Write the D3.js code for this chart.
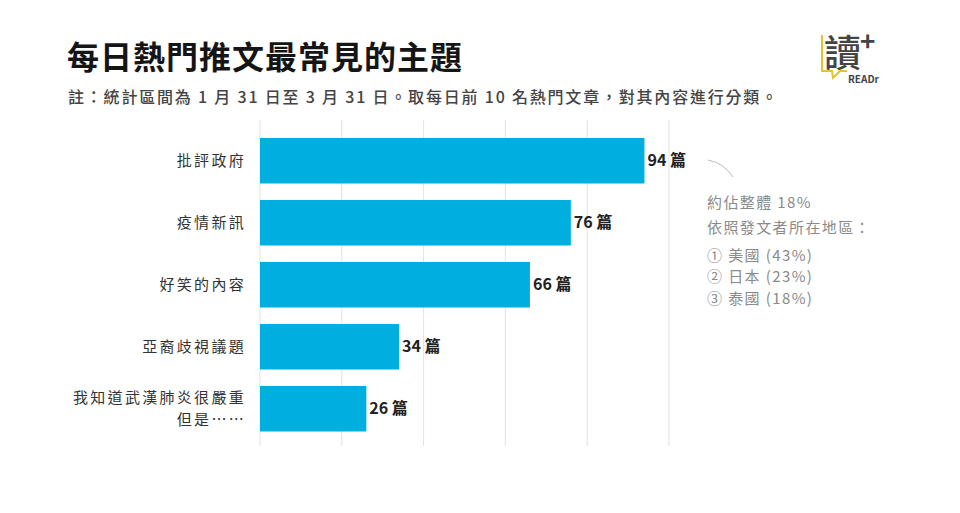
<!DOCTYPE html>
<html>
<head>
<meta charset="utf-8">
<script src="https://cdn.jsdelivr.net/npm/d3@7"></script>
<style>
  body { margin: 0; background: #fff; }
  svg { display: block; font-family: "Noto Sans CJK TC", "Noto Sans", sans-serif; }
</style>
</head>
<body>
<svg id="chart" width="960" height="513"></svg>
<script>
const categories = ['批評政府', '疫情新訊', '好笑的內容', '亞裔歧視議題', '我知道武漢肺炎很嚴重\n但是……']
const counts = [94, 76, 66, 34, 26]
const gridTicks = [0, 20, 40, 60, 80, 100]
const noteLines = ['約佔整體 18%', '依照發文者所在地區：', '① 美國 (43%)', '② 日本 (23%)', '③ 泰國 (18%)']

const svg = d3.select('#chart')

// title + subtitle
svg.append('text')
    .attr('x', 67).attr('y', 69)
    .attr('font-size', 32).attr('font-weight', 700)
    .attr('letter-spacing', 1)
    .attr('fill', '#151515')
    .text('每日熱門推文最常見的主題')

svg.append('text')
    .attr('x', 68).attr('y', 103)
    .attr('font-size', 16).attr('font-weight', 500)
    .attr('letter-spacing', 1.8)
    .attr('fill', '#444')
    .text('註：統計區間為 1 月 31 日至 3 月 31 日。取每日前 10 名熱門文章，對其內容進行分類。')

const x = d3.scaleLinear().domain([0, 100]).range([260, 669])
const y = d3.scaleBand()
    .domain(categories)
    .range([129.75, 439.75])
    .paddingInner(0.266)
    .paddingOuter(0.133)

// gridlines
svg.append('g')
    .selectAll('line')
    .data(gridTicks)
    .enter().append('line')
    .attr('x1', d => x(d)).attr('x2', d => x(d))
    .attr('y1', 120).attr('y2', 446)
    .attr('stroke', '#e2e2e2')
    .attr('stroke-width', 1)

// bars
svg.append('g')
    .selectAll('rect')
    .data(categories)
    .enter().append('rect')
    .attr('x', x(0))
    .attr('y', d => y(d))
    .attr('width', (d, i) => x(counts[i]) - x(0))
    .attr('height', y.bandwidth())
    .attr('fill', '#00aee0')

// value labels
svg.append('g')
    .selectAll('text')
    .data(categories)
    .enter().append('text')
    .attr('x', (d, i) => x(counts[i]) + 3)
    .attr('y', d => y(d) + y.bandwidth() / 2)
    .attr('dy', '0.35em')
    .attr('font-size', 16).attr('font-weight', 700)
    .attr('fill', '#222')
    .text((d, i) => counts[i] + ' 篇')

// category labels (second line of the long one wraps)
const catLabel = svg.append('g')
    .selectAll('text')
    .data(categories)
    .enter().append('text')
    .attr('text-anchor', 'end')
    .attr('font-size', 15)
    .attr('letter-spacing', 2.3)
    .attr('fill', '#333')
    .attr('transform', d => `translate(246, ${y(d) + y.bandwidth() / 2})`)

catLabel.each(function (d) {
    const lines = d.split('\n')
    const t = d3.select(this)
    lines.forEach((l, i) => {
        t.append('tspan')
            .attr('x', 0)
            .attr('y', (i - (lines.length - 1) / 2) * 22)
            .attr('dy', '0.35em')
            .text(l)
    })
})

// annotation
const p = d3.path()
p.moveTo(708, 160)
p.quadraticCurveTo(724, 163, 733, 177)
svg.append('path')
    .attr('d', p.toString())
    .attr('fill', 'none')
    .attr('stroke', '#bbb')
    .attr('stroke-width', 1)

const noteY = [203, 228, 256, 277, 299]
svg.append('g')
    .selectAll('text')
    .data(noteLines)
    .enter().append('text')
    .attr('x', 707)
    .attr('y', (d, i) => noteY[i])
    .attr('dy', '0.35em')
    .attr('font-size', 15)
    .attr('letter-spacing', 1.4)
    .attr('fill', '#8a8a8a')
    .text(d => d)

// logo
const logo = svg.append('g')
logo.append('path')
    .attr('d', 'M822,35 L822,71 L832,71 L833,78 L840,71 L847,71')
    .attr('fill', 'none')
    .attr('stroke', '#e8c22e')
    .attr('stroke-width', 2)
logo.append('text')
    .attr('x', 824).attr('y', 67)
    .attr('font-size', 37).attr('font-weight', 500)
    .attr('fill', '#444')
    .text('讀')
logo.append('text')
    .attr('x', 860).attr('y', 51)
    .attr('font-size', 26).attr('font-weight', 700)
    .attr('fill', '#444')
    .text('+')
logo.append('text')
    .attr('x', 848).attr('y', 83)
    .attr('font-size', 10).attr('font-weight', 700)
    .attr('fill', '#444')
    .text('READr')
</script>
</body>
</html>
